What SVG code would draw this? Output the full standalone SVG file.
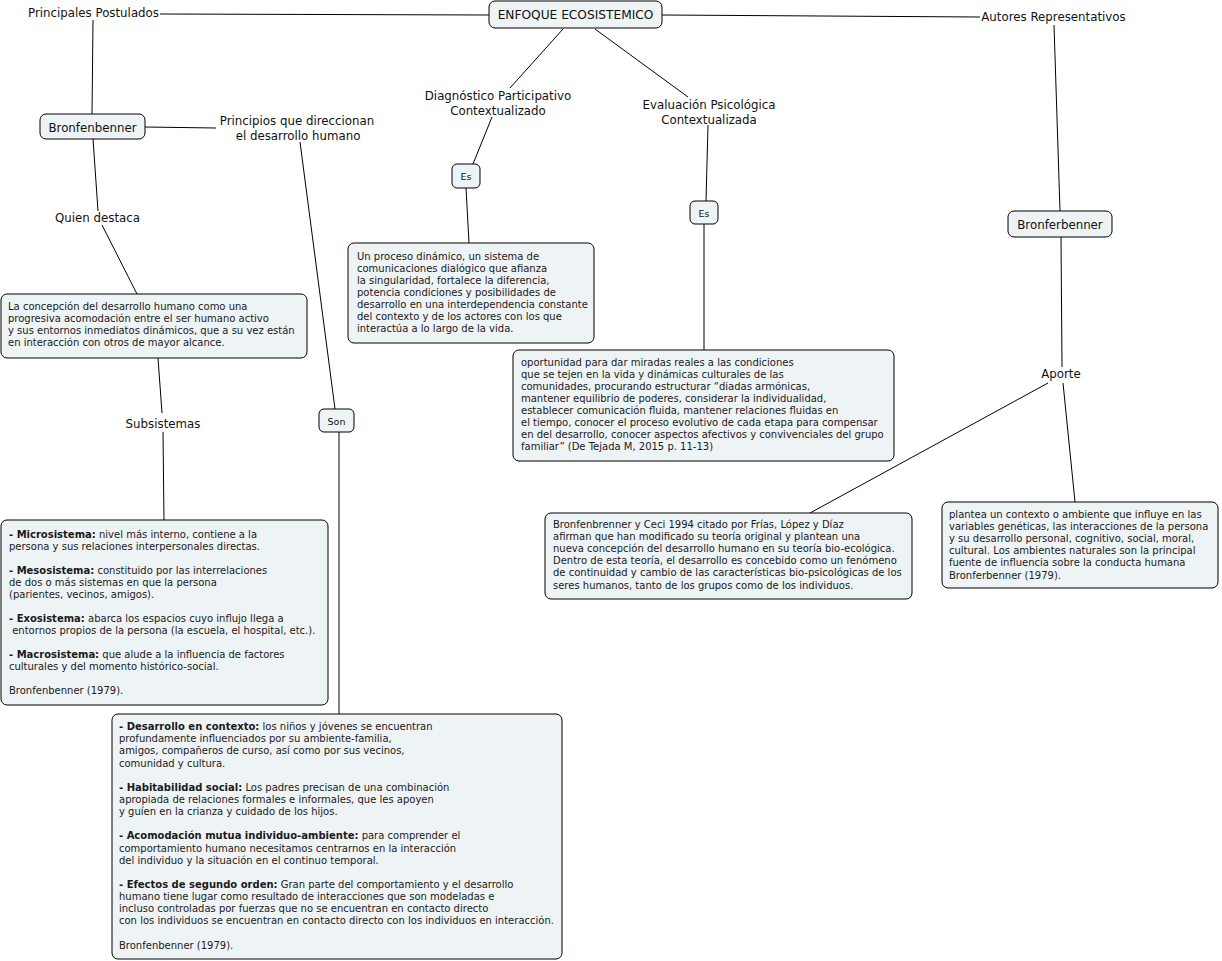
<svg xmlns="http://www.w3.org/2000/svg" width="1222" height="961" viewBox="0 0 1222 961">
<style>
text{font-family:"DejaVu Sans",Verdana,sans-serif;fill:#111}
.lbl{font-size:11.8px;text-anchor:middle}
.top{font-size:12.2px}
.sm{font-size:9.5px;text-anchor:middle}
.body{font-size:10px;fill:#1a1a1a}
.b{font-weight:bold}
.box{fill:#eef3f5;stroke:#000;stroke-width:1}
.con line{stroke:#000;stroke-width:1}
</style>
<rect width="1222" height="961" fill="#fff"/>
<g class="con" id="connectors">
<line x1="160" y1="14" x2="489" y2="15"/>
<line x1="662" y1="15" x2="980" y2="17"/>
<line x1="93" y1="20" x2="92" y2="114"/>
<line x1="145" y1="127" x2="216" y2="128"/>
<line x1="93" y1="139" x2="98" y2="211"/>
<line x1="102" y1="225" x2="137" y2="294"/>
<line x1="300" y1="142" x2="335" y2="409"/>
<line x1="158" y1="358" x2="162" y2="413"/>
<line x1="163" y1="432" x2="164" y2="520"/>
<line x1="339" y1="432" x2="339" y2="714"/>
<line x1="563" y1="29" x2="510" y2="88"/>
<line x1="492" y1="117" x2="473" y2="164"/>
<line x1="466" y1="188" x2="469" y2="243"/>
<line x1="595" y1="29" x2="688" y2="97"/>
<line x1="708" y1="125" x2="706" y2="201"/>
<line x1="704" y1="224" x2="704" y2="350"/>
<line x1="1054" y1="25" x2="1060" y2="211"/>
<line x1="1061" y1="237" x2="1062" y2="367"/>
<line x1="1048" y1="383" x2="810" y2="513"/>
<line x1="1063" y1="383" x2="1075" y2="502"/>
</g>
<g id="enfoque"><rect class="box" x="489" y="1" width="173" height="27" rx="6"/><text class="lbl top" x="575.5" y="18.5">ENFOQUE ECOSISTEMICO</text></g>
<g id="principales"><text class="lbl" x="93.5" y="17">Principales Postulados</text></g>
<g id="autores"><text class="lbl" x="1053.5" y="21">Autores Representativos</text></g>
<g id="bronfenbenner-left"><rect class="box" x="40" y="114" width="105" height="25" rx="6"/><text class="lbl" x="92.5" y="132">Bronfenbenner</text></g>
<g id="principios"><text class="lbl" x="297" y="125">Principios que direccionan</text><text class="lbl" x="298" y="140">el desarrollo humano</text></g>
<g id="quien"><text class="lbl" x="97.5" y="222">Quien destaca</text></g>
<g id="concepcion"><rect class="box" x="1" y="294" width="306" height="64" rx="6"/>
<text class="body" x="8" y="309.5">La concepción del desarrollo humano como una</text>
<text class="body" x="8" y="321.7">progresiva acomodación entre el ser humano activo</text>
<text class="body" x="8" y="333.9">y sus entornos inmediatos dinámicos, que a su vez están</text>
<text class="body" x="8" y="346.1">en interacción con otros de mayor alcance.</text>
</g>
<g id="subsistemas"><text class="lbl" x="163" y="428">Subsistemas</text></g>
<g id="son"><rect class="box" x="319" y="409" width="35" height="23" rx="5"/><text class="sm" x="336.5" y="424.5">Son</text></g>
<g id="subsistemas-box"><rect class="box" x="1" y="520" width="327" height="185" rx="6"/>
<text class="body" x="9" y="537.5"><tspan class="b">- Microsistema:</tspan> nivel más interno, contiene a la</text>
<text class="body" x="9" y="549.5">persona y sus relaciones interpersonales directas.</text>
<text class="body" x="9" y="573.5"><tspan class="b">- Mesosistema:</tspan> constituido por las interrelaciones</text>
<text class="body" x="9" y="585.5">de dos o más sistemas en que la persona</text>
<text class="body" x="9" y="597.5">(parientes, vecinos, amigos).</text>
<text class="body" x="9" y="621.5"><tspan class="b">- Exosistema:</tspan> abarca los espacios cuyo influjo llega a</text>
<text class="body" x="9" y="633.5" xml:space="preserve"> entornos propios de la persona (la escuela, el hospital, etc.).</text>
<text class="body" x="9" y="657.5"><tspan class="b">- Macrosistema:</tspan> que alude a la influencia de factores</text>
<text class="body" x="9" y="669.5">culturales y del momento histórico-social.</text>
<text class="body" x="9" y="693.5">Bronfenbenner (1979).</text>
</g>
<g id="principios-box"><rect class="box" x="112" y="714" width="450" height="245" rx="6"/>
<text class="body" x="119" y="730"><tspan class="b">- Desarrollo en contexto:</tspan> los niños y jóvenes se encuentran</text>
<text class="body" x="119" y="742.2">profundamente influenciados por su ambiente-familia,</text>
<text class="body" x="119" y="754.3">amigos, compañeros de curso, así como por sus vecinos,</text>
<text class="body" x="119" y="766.5">comunidad y cultura.</text>
<text class="body" x="119" y="790.8"><tspan class="b">- Habitabilidad social:</tspan> Los padres precisan de una combinación</text>
<text class="body" x="119" y="802.9">apropiada de relaciones formales e informales, que les apoyen</text>
<text class="body" x="119" y="815.1">y guíen en la crianza y cuidado de los hijos.</text>
<text class="body" x="119" y="839.4"><tspan class="b">- Acomodación mutua individuo-ambiente:</tspan> para comprender el</text>
<text class="body" x="119" y="851.5">comportamiento humano necesitamos centrarnos en la interacción</text>
<text class="body" x="119" y="863.7">del individuo y la situación en el continuo temporal.</text>
<text class="body" x="119" y="888"><tspan class="b">- Efectos de segundo orden:</tspan> Gran parte del comportamiento y el desarrollo</text>
<text class="body" x="119" y="900.1">humano tiene lugar como resultado de interacciones que son modeladas e</text>
<text class="body" x="119" y="912.3">incluso controladas por fuerzas que no se encuentran en contacto directo</text>
<text class="body" x="119" y="924.4">con los individuos se encuentran en contacto directo con los individuos en interacción.</text>
<text class="body" x="119" y="948.7">Bronfenbenner (1979).</text>
</g>
<g id="diagnostico"><text class="lbl" x="498" y="100">Diagnóstico Participativo</text><text class="lbl" x="498" y="115">Contextualizado</text></g>
<g id="es-left"><rect class="box" x="452" y="164" width="28" height="24" rx="5"/><text class="sm" x="466" y="179.5">Es</text></g>
<g id="proceso"><rect class="box" x="348" y="243" width="246" height="100" rx="6"/>
<text class="body" x="357" y="259.5">Un proceso dinámico, un sistema de</text>
<text class="body" x="357" y="271.6">comunicaciones dialógico que afianza</text>
<text class="body" x="357" y="283.7">la singularidad, fortalece la diferencia,</text>
<text class="body" x="357" y="295.8">potencia condiciones y posibilidades de</text>
<text class="body" x="357" y="307.9">desarrollo en una interdependencia constante</text>
<text class="body" x="357" y="320">del contexto y de los actores con los que</text>
<text class="body" x="357" y="332.1">interactúa a lo largo de la vida.</text>
</g>
<g id="evaluacion"><text class="lbl" x="709" y="109">Evaluación Psicológica</text><text class="lbl" x="709" y="123.5">Contextualizada</text></g>
<g id="es-right"><rect class="box" x="690" y="201" width="28" height="23" rx="5"/><text class="sm" x="704" y="216.5">Es</text></g>
<g id="oportunidad"><rect class="box" x="513" y="350" width="381" height="111" rx="6"/>
<text class="body" x="521" y="365.5">oportunidad para dar miradas reales a las condiciones</text>
<text class="body" x="521" y="377.6">que se tejen en la vida y dinámicas culturales de las</text>
<text class="body" x="521" y="389.7">comunidades, procurando estructurar “diadas armónicas,</text>
<text class="body" x="521" y="401.8">mantener equilibrio de poderes, considerar la individualidad,</text>
<text class="body" x="521" y="413.9">establecer comunicación fluida, mantener relaciones fluidas en</text>
<text class="body" x="521" y="426">el tiempo, conocer el proceso evolutivo de cada etapa para compensar</text>
<text class="body" x="521" y="438.1">en del desarrollo, conocer aspectos afectivos y convivenciales del grupo</text>
<text class="body" x="521" y="450.2">familiar” (De Tejada M, 2015 p. 11-13)</text>
</g>
<g id="bronferbenner-right"><rect class="box" x="1008" y="211" width="104" height="26" rx="6"/><text class="lbl" x="1060" y="228.5">Bronferbenner</text></g>
<g id="aporte"><text class="lbl" x="1061" y="378">Aporte</text></g>
<g id="ceci"><rect class="box" x="545" y="513" width="367" height="86" rx="6"/>
<text class="body" x="553" y="527.5">Bronfenbrenner y Ceci 1994 citado por Frías, López y Díaz</text>
<text class="body" x="553" y="539.7">afirman que han modificado su teoría original y plantean una</text>
<text class="body" x="553" y="551.9">nueva concepción del desarrollo humano en su teoría bio-ecológica.</text>
<text class="body" x="553" y="564.1">Dentro de esta teoría, el desarrollo es concebido como un fenómeno</text>
<text class="body" x="553" y="576.3">de continuidad y cambio de las características bio-psicológicas de los</text>
<text class="body" x="553" y="588.5">seres humanos, tanto de los grupos como de los individuos.</text>
</g>
<g id="plantea"><rect class="box" x="942" y="502" width="276" height="86" rx="6"/>
<text class="body" x="949" y="517.5">plantea un contexto o ambiente que influye en las</text>
<text class="body" x="949" y="529.7">variables genéticas, las interacciones de la persona</text>
<text class="body" x="949" y="541.9">y su desarrollo personal, cognitivo, social, moral,</text>
<text class="body" x="949" y="554.1">cultural. Los ambientes naturales son la principal</text>
<text class="body" x="949" y="566.3">fuente de influencia sobre la conducta humana</text>
<text class="body" x="949" y="578.5">Bronferbenner (1979).</text>
</g>
</svg>
